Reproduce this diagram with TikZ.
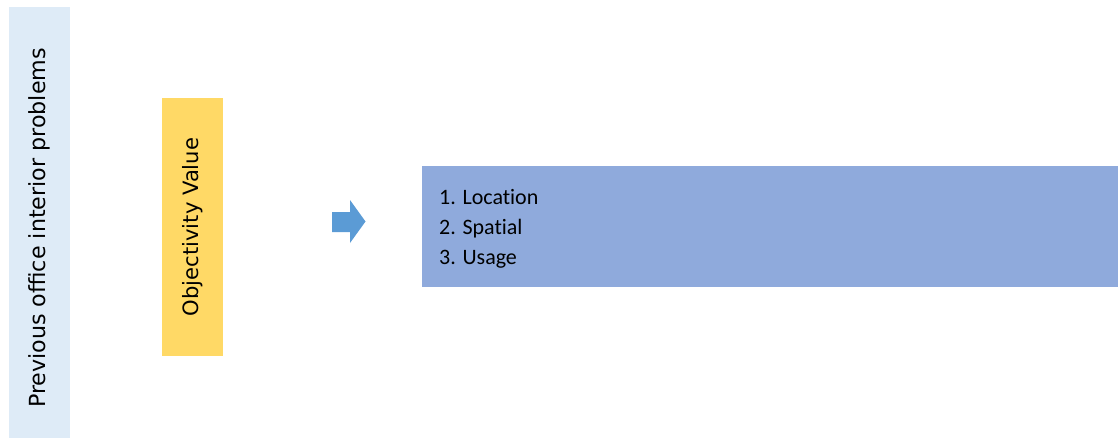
\documentclass[tikz,border=0pt]{standalone}
\usepackage{fontspec}
\setmainfont{Carlito}[Ligatures=NoCommon]
\newfontfamily\barfont{DejaVu Sans}
\usepackage{xcolor}
\usetikzlibrary{positioning}
\definecolor{barblue}{HTML}{DEEBF7}
\definecolor{valyellow}{HTML}{FFD966}
\definecolor{listblue}{HTML}{8FAADC}
\definecolor{arrowblue}{HTML}{5B9BD5}
\tikzset{
  sidebar/.style={
    rectangle, fill=barblue, rotate=90, inner sep=0pt,
    font=\barfont\fontsize{22.2}{26}\selectfont
  },
  valuebar/.style={
    rectangle, fill=valyellow, rotate=90, inner sep=0pt,
    font=\barfont\fontsize{21.1}{25}\selectfont
  },
  listbox/.style={
    rectangle, fill=listblue, inner sep=0pt
  },
  listtext/.style={
    align=left, inner sep=0pt,
    font=\fontsize{22}{30}\selectfont
  },
  blockarrow/.style={fill=arrowblue}
}
\begin{document}
\begin{tikzpicture}[x=1pt, y=-1pt]
  \useasboundingbox (0,0) rectangle (1118,437);

  \node[sidebar, minimum width=442pt, minimum height=61pt] (problems) at (39.5,228) {Previous office interior problems};
  \node[valuebar, minimum width=258pt, minimum height=61pt] (objvalue) at (192.5,227) {Objectivity Value};

  % block arrow between the value and the list
  \fill[blockarrow] (332,212) -- (350,212) -- (350,200) -- (365.5,221.5)
    -- (350,243) -- (350,232) -- (332,232) -- cycle;

  \node[listbox, minimum width=696pt, minimum height=121pt] (aspects) at (770,226.5) {};
  \node[listtext, anchor=west] (aspectlist) at (439,229) {1. Location\\2. Spatial\\3. Usage};
\end{tikzpicture}
\end{document}
